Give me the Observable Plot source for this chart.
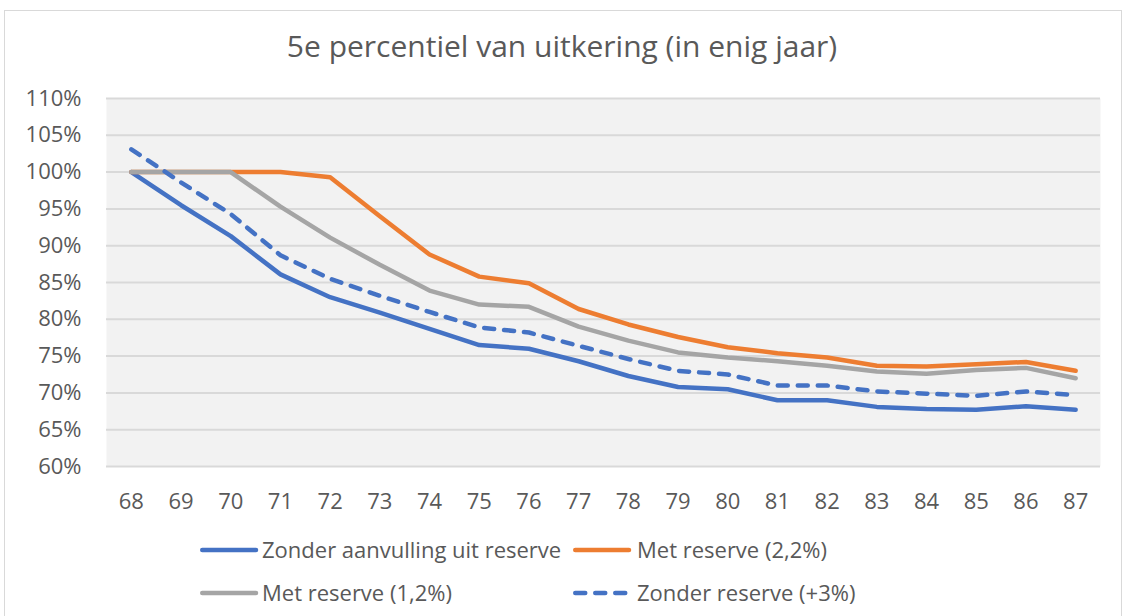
<!DOCTYPE html>
<html>
<head>
<meta charset="utf-8">
<script src="https://cdn.jsdelivr.net/npm/d3@7"></script>
<script src="https://cdn.jsdelivr.net/npm/@observablehq/plot@0.6"></script>
<style>
  html, body { margin: 0; padding: 0; background: #fff; }
  #wrap { position: relative; width: 1124px; height: 616px; overflow: hidden; font-family: "Open Sans", sans-serif; color: #595959; }
  #border { position: absolute; left: 4px; top: 10px; width: 1118px; height: 620px; border: 1px solid #d9d9d9; box-sizing: border-box; }
  #title { position: absolute; left: 0; width: 1124px; top: 26px; text-align: center; font-size: 30px; line-height: 40px; color: #595959; white-space: nowrap; }
  #chart { position: absolute; left: 0; top: 80px; }
  #legend { position: absolute; left: 0; top: 520px; }
</style>
</head>
<body>
<div id="wrap">
  <div id="border"></div>
  <div id="title">5e percentiel van uitkering (in enig jaar)</div>
  <div id="chart"></div>
  <div id="legend"></div>
</div>
<script>
const ages = [68, 69, 70, 71, 72, 73, 74, 75, 76, 77, 78, 79, 80, 81, 82, 83, 84, 85, 86, 87];
const zonderAanvulling = [100, 95.5, 91.3, 86.1, 83.0, 80.9, 78.7, 76.5, 76.0, 74.3, 72.3, 70.8, 70.5, 69.0, 69.0, 68.1, 67.8, 67.7, 68.2, 67.7];
const metReserve22 = [100, 100, 100, 100, 99.3, 94.0, 88.8, 85.8, 84.9, 81.4, 79.3, 77.6, 76.2, 75.4, 74.8, 73.7, 73.6, 73.9, 74.2, 73.0];
const metReserve12 = [100, 100, 100, 95.3, 91.1, 87.4, 83.9, 82.0, 81.7, 79.0, 77.1, 75.5, 74.8, 74.3, 73.7, 72.9, 72.6, 73.1, 73.4, 72.0];
const zonderReservePlus3 = [103.1, 98.6, 94.3, 88.7, 85.5, 83.2, 81.0, 78.9, 78.2, 76.4, 74.6, 73.0, 72.5, 71.0, 71.0, 70.2, 69.9, 69.6, 70.2, 69.7];
const yTicks = [60, 65, 70, 75, 80, 85, 90, 95, 100, 105, 110];

const seriesNames = ["Zonder aanvulling uit reserve", "Met reserve (2,2%)", "Met reserve (1,2%)", "Zonder reserve (+3%)"];
const seriesValues = [zonderAanvulling, metReserve22, metReserve12, zonderReservePlus3];
const seriesColors = ["#4472C4", "#ED7D31", "#A5A5A5", "#4472C4"];
const seriesDash = [null, null, null, "10,10"];

const lineMarks = seriesNames.map((name, i) => {
  const rows = ages.map((a, j) => ({age: a, value: seriesValues[i][j]}));
  return Plot.line(rows, {
    x: "age", y: "value",
    stroke: seriesColors[i], strokeWidth: 4.5,
    strokeLinejoin: "round", strokeLinecap: "round",
    strokeDasharray: seriesDash[i] || undefined
  });
});

const chart = Plot.plot({
  width: 1124,
  height: 440,
  marginTop: 18,
  marginBottom: 54,
  marginLeft: 106,
  marginRight: 24,
  style: {fontFamily: "'Open Sans', sans-serif", color: "#595959", background: "transparent"},
  x: {type: "point", domain: ages, padding: 0.5, round: false},
  y: {domain: [60, 110]},
  marks: [
    Plot.frame({fill: "#f2f2f2", stroke: null}),
    Plot.ruleY(yTicks, {stroke: "#d9d9d9", strokeWidth: 2}),
    Plot.axisY({ticks: yTicks, tickFormat: d => d + "%", tickSize: 0, tickPadding: 25, fontSize: 22, fill: "#595959", label: null}),
    Plot.axisX({tickSize: 0, tickPadding: 27, fontSize: 22, fill: "#595959", label: null}),
    ...lineMarks
  ]
});
document.getElementById("chart").appendChild(chart);

// legend
const legendItems = [
  {i: 0, x: 200, tx: 262, y: 30},
  {i: 1, x: 573, tx: 637, y: 30},
  {i: 2, x: 200, tx: 262, y: 73},
  {i: 3, x: 573, tx: 637, y: 73}
];
const svg = d3.select("#legend").append("svg").attr("width", 1124).attr("height", 96)
  .style("font-family", "'Open Sans', sans-serif");
for (const it of legendItems) {
  const g = svg.append("g");
  const ln = g.append("line")
    .attr("x1", it.x + 2.25).attr("x2", it.x + 56)
    .attr("y1", it.y).attr("y2", it.y)
    .attr("stroke", seriesColors[it.i]).attr("stroke-width", 4.5)
    .attr("stroke-linecap", "round");
  if (seriesDash[it.i]) ln.attr("stroke-dasharray", seriesDash[it.i]);
  g.append("text")
    .attr("x", it.tx).attr("y", it.y).attr("dy", "0.35em")
    .attr("fill", "#595959").attr("font-size", 22)
    .text(seriesNames[it.i]);
}
</script>
</body>
</html>
